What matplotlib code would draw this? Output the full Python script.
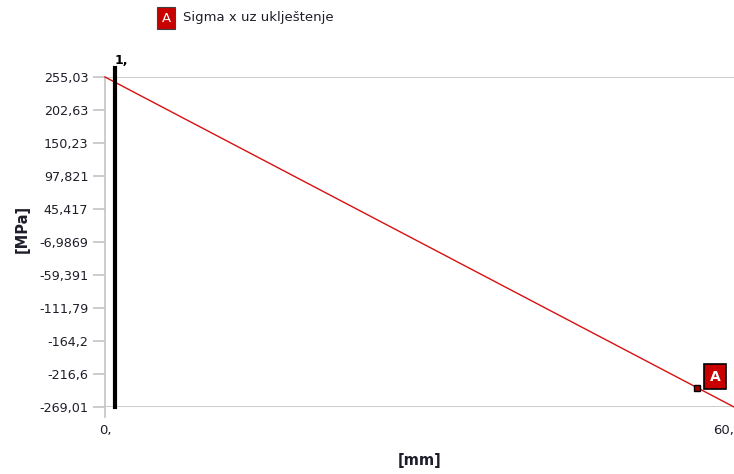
import matplotlib
matplotlib.use("Agg")
import matplotlib.pyplot as plt
import numpy as np

# Stress along the path (linear distribution)
x_mm = [0.0, 60.0]
sigma_mpa = [255.03, -269.01]
y_ticks = [255.03, 202.63, 150.23, 97.821, 45.417, -6.9869, -59.391, -111.79, -164.2, -216.6, -269.01]
y_tick_labels = ["255,03", "202,63", "150,23", "97,821", "45,417", "-6,9869", "-59,391",
                 "-111,79", "-164,2", "-216,6", "-269,01"]
x_tick_labels = ["0,", "60,"]
cursor_x = 1.0
probe_x = 56.5
series_name = "Sigma x uz uklještenje"

red = "#d81010"
grey = "#c4c4c4"
txt = "#1e1e2a"

fig = plt.figure(figsize=(7.34, 4.74), dpi=100)
ax = fig.add_axes([105/734, 1-407/474, 629/734, 330/474])
ax.set_xlim(x_mm[0], x_mm[1])
ax.set_ylim(sigma_mpa[1], sigma_mpa[0])
for s in ax.spines.values():
    s.set_visible(False)

# frame lines at the value limits and left axis
ax.axhline(sigma_mpa[0], color=grey, lw=1.2, zorder=1)
ax.axhline(sigma_mpa[1], color=grey, lw=1.2, zorder=1)
ax.plot([0, 0], [-0.03, 1], transform=ax.transAxes, color=grey, lw=1.2, clip_on=False, zorder=1)

ax.set_yticks(y_ticks)
ax.set_yticklabels(y_tick_labels, fontsize=9.2, color=txt)
ax.tick_params(axis="y", length=9, width=1.2, color=grey, pad=3)
ax.set_xticks(x_mm)
ax.set_xticklabels(x_tick_labels, fontsize=9.5, color=txt)
ax.tick_params(axis="x", length=0, pad=12)
xt = ax.get_xticklabels()
xt[1].set_horizontalalignment("right")

ax.set_xlabel("[mm]", fontsize=10.5, fontweight="bold", color=txt)
ax.xaxis.set_label_coords(0.5, -0.14)
ax.set_ylabel("[MPa]", fontsize=10.5, fontweight="bold", color=txt)
ax.yaxis.set_label_coords(-0.119, 0.54)

# stress line
ax.plot(x_mm, sigma_mpa, color=red, lw=1.0, zorder=3, clip_on=False)

# cursor
span = sigma_mpa[0] - sigma_mpa[1]
ax.plot([cursor_x, cursor_x], [sigma_mpa[1], sigma_mpa[0] + 0.027*span],
        color="black", lw=3, zorder=4, clip_on=False)
ax.text(cursor_x - 0.1, sigma_mpa[0] + 0.03*span, "1,", fontsize=9,
        fontweight="bold", color="black", ha="left", va="bottom")

# probe marker with label
probe_y = np.interp(probe_x, x_mm, sigma_mpa)
ax.plot([probe_x], [probe_y], marker="s", ms=5, mfc="#a00000", mec="black", mew=1, zorder=5)
ax.annotate("A", xy=(probe_x, probe_y), xytext=(9, 8), textcoords="offset points",
            fontsize=10, fontweight="bold", color="white", ha="left", va="center",
            bbox=dict(boxstyle="square,pad=0.4", fc="#c80000", ec="black", lw=1.2), zorder=6)

# legend entry
fig.text(166/734, 1-18/474, "A", fontsize=9.5, color="white", ha="center", va="center",
         bbox=dict(boxstyle="square,pad=0.35", fc="#c80000", ec="#404040", lw=0.8))
fig.text(183/734, 1-18/474, series_name, fontsize=9.5, color=txt, ha="left", va="center")

fig.savefig("out.png", dpi=100)
